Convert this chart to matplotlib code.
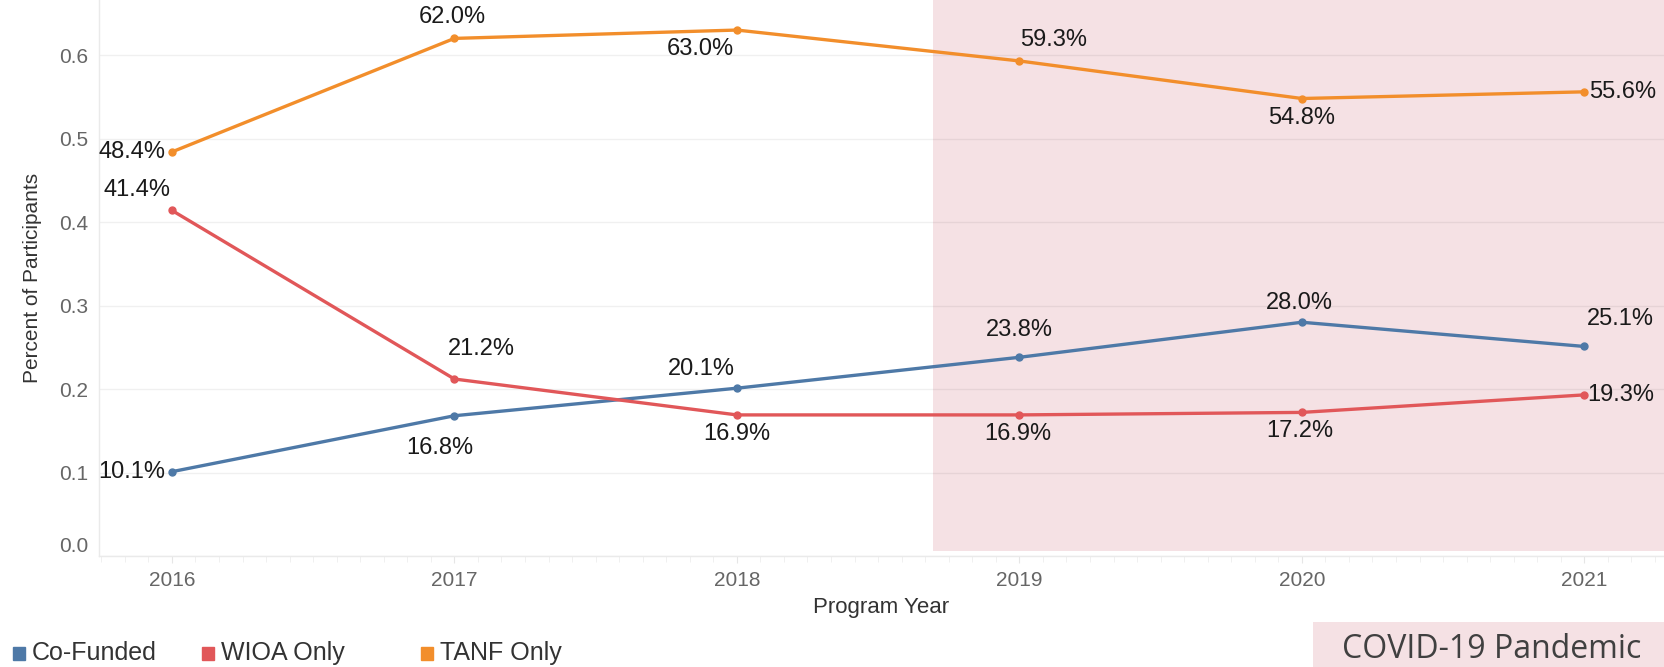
import matplotlib
matplotlib.use('Agg')
import matplotlib.pyplot as plt
from matplotlib.patches import Rectangle
from matplotlib.ticker import MultipleLocator
from matplotlib.transforms import ScaledTranslation

# data
years = [2016, 2017, 2018, 2019, 2020, 2021]
co_funded = [0.101, 0.168, 0.201, 0.238, 0.280, 0.251]
wioa_only = [0.414, 0.212, 0.169, 0.169, 0.172, 0.193]
tanf_only = [0.484, 0.620, 0.630, 0.593, 0.548, 0.556]
series_names = ['Co-Funded', 'WIOA Only', 'TANF Only']
covid_start = 2018.694

colors = ['#4e79a7', '#e15759', '#f28e2b']
pink = '#f5e1e4'

# label placement (pixel offsets of text centre from point: dx, dy up)
label_offsets = [
    [(-40, 0), (-15, -32), (-35, 19), (0, 27), (-2, 19), (36, 27)],
    [(-35, 20), (27, 30), (0, -19), (-2, -19), (-2, -19), (36, 0)],
    [(-40, 0), (-2, 21), (-37, -19), (34, 21), (0, -19), (38, 0)],
]

plt.rcParams['font.family'] = ['Liberation Sans', 'DejaVu Sans']

W, H = 1664, 667
fig = plt.figure(figsize=(W / 100, H / 100), dpi=100)
ax = fig.add_axes([99 / W, 1 - 556 / H, 1 - 99 / W, 556 / H])

ax.set_xlim(2015.742, 2021.282)
ax.set_ylim(0, 0.666)

ax.axvspan(covid_start, 2021.282, ymin=0.009, ymax=1, color=pink, lw=0, zorder=0.2)

ax.set_axisbelow(True)
ax.yaxis.grid(True, color='#000000', alpha=0.06, lw=1)
ax.set_yticks([0.0, 0.1, 0.2, 0.3, 0.4, 0.5, 0.6])
ax.set_yticklabels(['0.0', '0.1', '0.2', '0.3', '0.4', '0.5', '0.6'])
ax.set_xticks(years)
ax.set_xticklabels([str(y) for y in years])
ax.xaxis.set_minor_locator(MultipleLocator(1 / 12))

ax.tick_params(axis='y', length=0, pad=8, labelsize=15, labelcolor='#666666')
ax.tick_params(axis='x', which='major', length=5, color='#e6e6e6', pad=6,
               labelsize=15, labelcolor='#666666')
ax.tick_params(axis='x', which='minor', length=4, color='#eeeeee')

# Tableau nudges the bottom label up
zero_lab = ax.get_yticklabels()[0]
zero_lab.set_transform(zero_lab.get_transform()
                       + ScaledTranslation(0, 12 / 100, fig.dpi_scale_trans))

for s in ['top', 'right']:
    ax.spines[s].set_visible(False)
for s in ['left', 'bottom']:
    ax.spines[s].set_color('#eaeaea')
    ax.spines[s].set_linewidth(1)

all_series = [co_funded, wioa_only, tanf_only]
for vals, c, name, offs in zip(all_series, colors, series_names, label_offsets):
    ax.plot(years, vals, color=c, lw=2.4, marker='o', markersize=5, zorder=3,
            solid_capstyle='round')
    for x, v, (dx, dy) in zip(years, vals, offs):
        ax.annotate(f'{v * 100:.1f}%', (x, v), xytext=(dx, dy),
                    textcoords='offset pixels', ha='center', va='center',
                    fontsize=17, color='#1a1a1a', zorder=4)

ax.set_xlabel('Program Year', fontsize=16, color='#333333', labelpad=5)
ax.set_ylabel('Percent of Participants', fontsize=15, color='#333333', labelpad=12)

# legend
leg_x = [13, 202, 421]
for name, c, lx in zip(series_names, colors, leg_x):
    fig.patches.append(Rectangle((lx / W, 1 - 660 / H), 12 / W, 13 / H,
                                 transform=fig.transFigure, color=c))
    fig.text((lx + 19) / W, 1 - 653 / H, name, fontsize=18, color='#333333',
             ha='left', va='center')

# COVID box
fig.patches.append(Rectangle((1313 / W, 0), (W - 1313) / W, 45 / H,
                             transform=fig.transFigure, color=pink, lw=0))
fig.text(1492 / W, 1 - 650 / H, 'COVID-19 Pandemic', fontsize=23,
         family='Open Sans', color='#404040', ha='center', va='center')

fig.savefig('out.png', dpi=100)
